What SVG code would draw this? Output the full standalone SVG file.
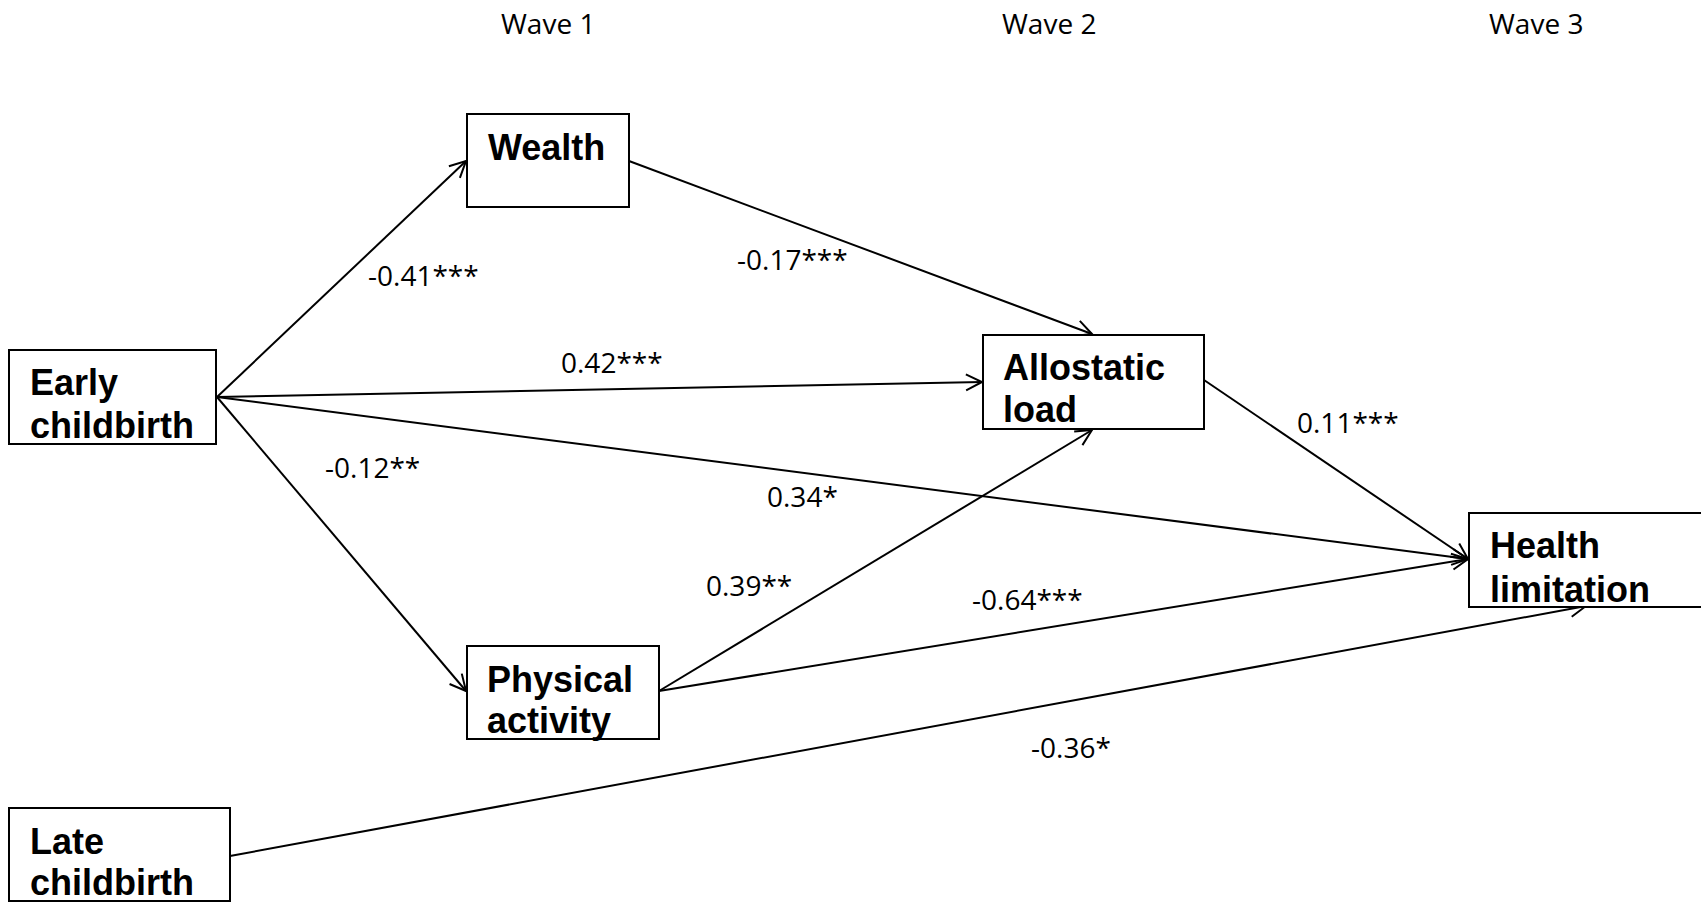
<svg xmlns="http://www.w3.org/2000/svg" width="1701" height="903" viewBox="0 0 1701 903">
<style>
.box{fill:#fff;stroke:#000;stroke-width:2}
.nt{font-family:"Liberation Sans",Arial,sans-serif;font-weight:bold;font-size:36px;fill:#000}
.lb{font-family:"Open Sans","Noto Sans",sans-serif;font-size:28px;fill:#000}
.edge{stroke:#000;stroke-width:2;fill:none;marker-end:url(#arr)}
</style>
<defs>
<marker id="arr" markerUnits="userSpaceOnUse" markerWidth="20" markerHeight="20" viewBox="0 0 20 20" refX="17" refY="10" orient="auto">
<path d="M1,2 L17,10 L1,18" fill="none" stroke="#000" stroke-width="2"/>
</marker>
</defs>
<rect width="1701" height="903" fill="#fff"/>
<g id="waves">
<text class="lb" x="501" y="34">Wave 1</text>
<text class="lb" x="1002" y="34">Wave 2</text>
<text class="lb" x="1489" y="34">Wave 3</text>
</g>
<g id="connectors">
<line class="edge" x1="217" y1="397" x2="466" y2="161"/>
<line class="edge" x1="217" y1="397" x2="982" y2="382"/>
<line class="edge" x1="217" y1="397" x2="1468" y2="559"/>
<line class="edge" x1="217" y1="397" x2="466" y2="691"/>
<line class="edge" x1="629" y1="161" x2="1092" y2="334"/>
<line class="edge" x1="659" y1="691" x2="1092" y2="430"/>
<line class="edge" x1="659" y1="691" x2="1468" y2="559"/>
<line class="edge" x1="1204" y1="380" x2="1468" y2="559"/>
<line class="edge" x1="230" y1="856" x2="1586" y2="606"/>
</g>
<g id="labels">
<text class="lb" x="368" y="286">-0.41***</text>
<text class="lb" x="737" y="270">-0.17***</text>
<text class="lb" x="561" y="373">0.42***</text>
<text class="lb" x="325" y="478">-0.12**</text>
<text class="lb" x="767" y="507">0.34*</text>
<text class="lb" x="1297" y="433">0.11***</text>
<text class="lb" x="706" y="596">0.39**</text>
<text class="lb" x="972" y="610">-0.64***</text>
<text class="lb" x="1031" y="758">-0.36*</text>
</g>
<g id="early">
<rect class="box" x="9" y="350" width="207" height="94"/>
<text class="nt" x="30" y="395">Early</text>
<text class="nt" x="30" y="438">childbirth</text>
</g>
<g id="wealth">
<rect class="box" x="467" y="114" width="162" height="93"/>
<text class="nt" x="488" y="160">Wealth</text>
</g>
<g id="allostatic">
<rect class="box" x="983" y="335" width="221" height="94"/>
<text class="nt" x="1003" y="380">Allostatic</text>
<text class="nt" x="1003" y="422">load</text>
</g>
<g id="physical">
<rect class="box" x="467" y="646" width="192" height="93"/>
<text class="nt" x="487" y="692">Physical</text>
<text class="nt" x="487" y="733">activity</text>
</g>
<g id="health">
<rect class="box" x="1469" y="513" width="240" height="94"/>
<text class="nt" x="1490" y="558">Health</text>
<text class="nt" x="1490" y="602">limitation</text>
</g>
<g id="late">
<rect class="box" x="9" y="808" width="221" height="93"/>
<text class="nt" x="30" y="854">Late</text>
<text class="nt" x="30" y="895">childbirth</text>
</g>
</svg>
